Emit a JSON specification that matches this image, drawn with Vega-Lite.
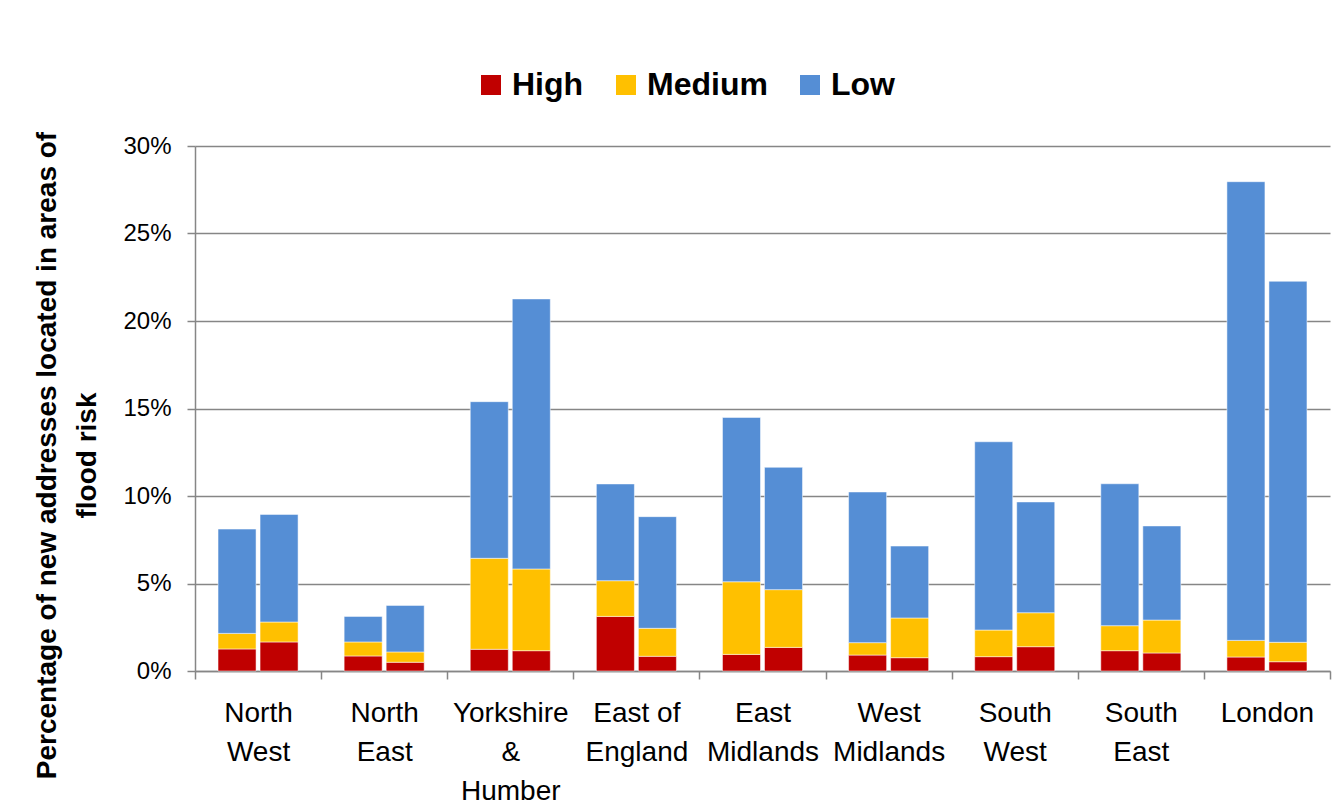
{
  "$schema": "https://vega.github.io/schema/vega-lite/v6.json",
  "width": 1135,
  "height": 525,
  "autosize": {"type": "none"},
  "padding": {"left": 195, "top": 146, "right": 11, "bottom": 135},
  "background": "white",
  "data": {
    "values": [
      {"region": "North West", "period": "Period 1", "risk": "High", "value": 1.26},
      {"region": "North West", "period": "Period 1", "risk": "Medium", "value": 0.89},
      {"region": "North West", "period": "Period 1", "risk": "Low", "value": 5.96},
      {"region": "North West", "period": "Period 2", "risk": "High", "value": 1.66},
      {"region": "North West", "period": "Period 2", "risk": "Medium", "value": 1.14},
      {"region": "North West", "period": "Period 2", "risk": "Low", "value": 6.15},
      {"region": "North East", "period": "Period 1", "risk": "High", "value": 0.86},
      {"region": "North East", "period": "Period 1", "risk": "Medium", "value": 0.80},
      {"region": "North East", "period": "Period 1", "risk": "Low", "value": 1.46},
      {"region": "North East", "period": "Period 2", "risk": "High", "value": 0.50},
      {"region": "North East", "period": "Period 2", "risk": "Medium", "value": 0.59},
      {"region": "North East", "period": "Period 2", "risk": "Low", "value": 2.66},
      {"region": "Yorkshire & Humber", "period": "Period 1", "risk": "High", "value": 1.24},
      {"region": "Yorkshire & Humber", "period": "Period 1", "risk": "Medium", "value": 5.20},
      {"region": "Yorkshire & Humber", "period": "Period 1", "risk": "Low", "value": 8.95},
      {"region": "Yorkshire & Humber", "period": "Period 2", "risk": "High", "value": 1.16},
      {"region": "Yorkshire & Humber", "period": "Period 2", "risk": "Medium", "value": 4.67},
      {"region": "Yorkshire & Humber", "period": "Period 2", "risk": "Low", "value": 15.43},
      {"region": "East of England", "period": "Period 1", "risk": "High", "value": 3.12},
      {"region": "East of England", "period": "Period 1", "risk": "Medium", "value": 2.04},
      {"region": "East of England", "period": "Period 1", "risk": "Low", "value": 5.53},
      {"region": "East of England", "period": "Period 2", "risk": "High", "value": 0.84},
      {"region": "East of England", "period": "Period 2", "risk": "Medium", "value": 1.60},
      {"region": "East of England", "period": "Period 2", "risk": "Low", "value": 6.38},
      {"region": "East Midlands", "period": "Period 1", "risk": "High", "value": 0.95},
      {"region": "East Midlands", "period": "Period 1", "risk": "Medium", "value": 4.15},
      {"region": "East Midlands", "period": "Period 1", "risk": "Low", "value": 9.39},
      {"region": "East Midlands", "period": "Period 2", "risk": "High", "value": 1.35},
      {"region": "East Midlands", "period": "Period 2", "risk": "Medium", "value": 3.30},
      {"region": "East Midlands", "period": "Period 2", "risk": "Low", "value": 6.99},
      {"region": "West Midlands", "period": "Period 1", "risk": "High", "value": 0.91},
      {"region": "West Midlands", "period": "Period 1", "risk": "Medium", "value": 0.71},
      {"region": "West Midlands", "period": "Period 1", "risk": "Low", "value": 8.61},
      {"region": "West Midlands", "period": "Period 2", "risk": "High", "value": 0.76},
      {"region": "West Midlands", "period": "Period 2", "risk": "Medium", "value": 2.27},
      {"region": "West Midlands", "period": "Period 2", "risk": "Low", "value": 4.11},
      {"region": "South West", "period": "Period 1", "risk": "High", "value": 0.82},
      {"region": "South West", "period": "Period 1", "risk": "Medium", "value": 1.52},
      {"region": "South West", "period": "Period 1", "risk": "Low", "value": 10.76},
      {"region": "South West", "period": "Period 2", "risk": "High", "value": 1.39},
      {"region": "South West", "period": "Period 2", "risk": "Medium", "value": 1.94},
      {"region": "South West", "period": "Period 2", "risk": "Low", "value": 6.33},
      {"region": "South East", "period": "Period 1", "risk": "High", "value": 1.16},
      {"region": "South East", "period": "Period 1", "risk": "Medium", "value": 1.43},
      {"region": "South East", "period": "Period 1", "risk": "Low", "value": 8.11},
      {"region": "South East", "period": "Period 2", "risk": "High", "value": 1.03},
      {"region": "South East", "period": "Period 2", "risk": "Medium", "value": 1.88},
      {"region": "South East", "period": "Period 2", "risk": "Low", "value": 5.38},
      {"region": "London", "period": "Period 1", "risk": "High", "value": 0.80},
      {"region": "London", "period": "Period 1", "risk": "Medium", "value": 0.95},
      {"region": "London", "period": "Period 1", "risk": "Low", "value": 26.21},
      {"region": "London", "period": "Period 2", "risk": "High", "value": 0.53},
      {"region": "London", "period": "Period 2", "risk": "Medium", "value": 1.11},
      {"region": "London", "period": "Period 2", "risk": "Low", "value": 20.63}
    ]
  },
  "transform": [
    {"calculate": "indexof(['High','Medium','Low'], datum.risk)", "as": "k"}
  ],
  "mark": {"type": "bar", "stroke": "white", "strokeWidth": 1, "strokeOpacity": 0.5},
  "encoding": {
    "x": {
      "field": "region",
      "type": "nominal",
      "sort": ["North West", "North East", "Yorkshire & Humber", "East of England", "East Midlands", "West Midlands", "South West", "South East", "London"],
      "scale": {"paddingInner": 0, "paddingOuter": 0},
      "axis": {
        "title": null,
        "labelAngle": 0,
        "tickBand": "extent",
        "grid": false,
        "labelExpr": "!isString(datum.value) ? '' : datum.value == 'Yorkshire & Humber' ? ['Yorkshire','&','Humber'] : datum.value == 'East of England' ? ['East of','England'] : split(datum.value, ' ')",
        "labelFont": "Liberation Sans",
        "labelFontSize": 28,
        "labelColor": "#000000",
        "labelLineHeight": 39,
        "labelPadding": 20,
        "tickSize": 8,
        "tickColor": "#868686",
        "tickWidth": 1.5,
        "domainColor": "#868686",
        "domainWidth": 1.5,
        "labelOverlap": false
      }
    },
    "xOffset": {
      "field": "period",
      "type": "nominal",
      "scale": {"paddingInner": 0.095, "paddingOuter": 0.548}
    },
    "y": {
      "field": "value",
      "type": "quantitative",
      "stack": "zero",
      "scale": {"domain": [0, 30], "nice": false},
      "axis": {
        "values": [0, 5, 10, 15, 20, 25, 30],
        "labelExpr": "datum.value + '%'",
        "title": ["Percentage of new addresses located in areas of", "flood risk"],
        "titleFont": "Liberation Sans",
        "titleFontSize": 28,
        "titleFontWeight": "bold",
        "titleColor": "#000000",
        "titleAngle": 270,
        "titleAlign": "center",
        "titleBaseline": "top",
        "titleLineHeight": 40,
        "titleX": -162,
        "titleY": 309,
        "labelFont": "Liberation Sans",
        "labelFontSize": 24,
        "labelColor": "#000000",
        "labelPadding": 16,
        "tickSize": 8,
        "tickColor": "#868686",
        "tickWidth": 1.5,
        "domainColor": "#868686",
        "domainWidth": 1.5,
        "grid": true,
        "gridColor": "#868686",
        "gridWidth": 1.5
      }
    },
    "color": {
      "field": "risk",
      "type": "nominal",
      "scale": {"domain": ["High", "Medium", "Low"], "range": ["#C00000", "#FFC000", "#558ED5"]},
      "legend": {
        "orient": "none",
        "legendX": 280,
        "legendY": -77,
        "direction": "horizontal",
        "title": null,
        "padding": 0,
        "symbolType": "square",
        "symbolSize": 400,
        "symbolStrokeWidth": 0,
        "labelFont": "Liberation Sans",
        "labelFontSize": 32,
        "labelFontWeight": "bold",
        "labelColor": "#000000",
        "labelOffset": 5,
        "columnPadding": 26
      }
    },
    "order": {"field": "k", "type": "quantitative", "sort": "ascending"}
  },
  "config": {
    "view": {"stroke": null}
  }
}
